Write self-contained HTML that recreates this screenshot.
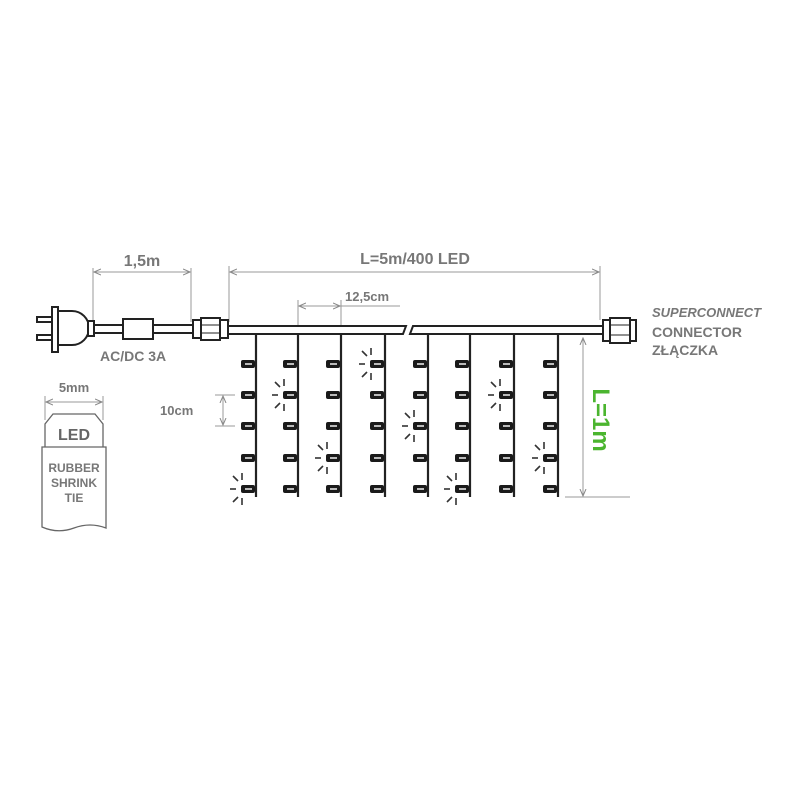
<!DOCTYPE html>
<html><head><style>body{margin:0;background:#fff}svg{display:block}</style></head><body>
<svg width="800" height="800" viewBox="0 0 800 800" xmlns="http://www.w3.org/2000/svg" font-family="Liberation Sans, Arial, sans-serif">
<defs>
<g id="led"><rect x="-15" y="-4" width="14" height="8" rx="2" fill="#1a1a1a"/><rect x="-11" y="-1" width="7" height="2" fill="#bbb"/></g>
<g id="spark" stroke="#333" stroke-width="1.6">
<line x1="-26" y1="0" x2="-20" y2="0"/><line x1="-14" y1="-16" x2="-14" y2="-9"/><line x1="-14" y1="9" x2="-14" y2="16"/>
<line x1="-23" y1="-13" x2="-18" y2="-8"/><line x1="-23" y1="13" x2="-18" y2="8"/>
</g>
<marker id="ar" markerWidth="8" markerHeight="8" refX="7" refY="4" orient="auto-start-reverse"><path d="M0,1 L7,4 L0,7" fill="none" stroke="#888" stroke-width="1"/></marker>
</defs>
<rect width="800" height="800" fill="#fff"/>
<g stroke="#999" stroke-width="1" fill="none">
<line x1="93" y1="268" x2="93" y2="322"/><line x1="191" y1="268" x2="191" y2="322"/>
<line x1="94" y1="272" x2="190" y2="272" marker-start="url(#ar)" marker-end="url(#ar)"/>
<line x1="229" y1="266" x2="229" y2="322"/><line x1="600" y1="266" x2="600" y2="320"/>
<line x1="230" y1="272" x2="599" y2="272" marker-start="url(#ar)" marker-end="url(#ar)"/>
<line x1="298" y1="300" x2="298" y2="326"/><line x1="341" y1="300" x2="341" y2="326"/>
<line x1="299" y1="306" x2="340" y2="306" marker-start="url(#ar)" marker-end="url(#ar)"/>
<line x1="341" y1="306" x2="400" y2="306"/>
<line x1="215" y1="395" x2="235" y2="395"/><line x1="215" y1="426" x2="235" y2="426"/>
<line x1="223" y1="396" x2="223" y2="425" marker-start="url(#ar)" marker-end="url(#ar)"/>
<line x1="583" y1="338" x2="583" y2="496" marker-start="url(#ar)" marker-end="url(#ar)"/>
<line x1="565" y1="497" x2="630" y2="497"/>
<line x1="46" y1="402" x2="102" y2="402" marker-start="url(#ar)" marker-end="url(#ar)"/>
<line x1="45" y1="396" x2="45" y2="420"/><line x1="103" y1="396" x2="103" y2="420"/>
</g>
<g fill="#777" font-weight="bold">
<text x="142" y="266" font-size="16" text-anchor="middle">1,5m</text>
<text x="415" y="264" font-size="16" text-anchor="middle">L=5m/400 LED</text>
<text x="345" y="301" font-size="13">12,5cm</text>
<text x="160" y="415" font-size="13">10cm</text>
<text x="100" y="361" font-size="14">AC/DC 3A</text>
<text x="74" y="392" font-size="13" text-anchor="middle">5mm</text>
<text x="652" y="317" font-size="13" font-style="italic">SUPERCONNECT</text>
<text x="652" y="337" font-size="14">CONNECTOR</text>
<text x="652" y="355" font-size="14">ZŁĄCZKA</text>
</g>
<text transform="translate(593,420) rotate(90)" fill="#4bb52f" font-size="24" font-weight="bold" text-anchor="middle">L=1m</text>
<path d="M45,447 L45,424 L53,414 L95,414 L103,424 L103,447" fill="#fff" stroke="#666" stroke-width="1.3"/>
<text x="74" y="440" font-size="16" font-weight="bold" fill="#666" text-anchor="middle">LED</text>
<path d="M42,447 L106,447 L106,528 Q90,522 74,528 Q58,534 42,527 Z" fill="#fff" stroke="#666" stroke-width="1.3"/>
<g font-size="12" font-weight="bold" fill="#777" text-anchor="middle"><text x="74" y="472">RUBBER</text><text x="74" y="487">SHRINK</text><text x="74" y="502">TIE</text></g>
<g stroke="#222" stroke-width="2" fill="#fff">
<rect x="37" y="317" width="17" height="5"/><rect x="37" y="335" width="17" height="5"/>
<rect x="52" y="307" width="6" height="45"/>
<path d="M58,311 L72,311 A17,17 0 0 1 72,345 L58,345 Z"/>
<rect x="88" y="321" width="6" height="15"/>
<rect x="94" y="325" width="30" height="8"/>
<rect x="123" y="319" width="30" height="20"/>
<rect x="153" y="325" width="41" height="8"/>
<rect x="193" y="320" width="8" height="18"/><rect x="201" y="318" width="19" height="22"/><rect x="220" y="320" width="8" height="18"/>
<line x1="201" y1="325" x2="220" y2="325" stroke-width="1"/><line x1="201" y1="333" x2="220" y2="333" stroke-width="1"/>
<path d="M228,326 L406,326 L403,334 L228,334 Z"/>
<path d="M413,326 L603,326 L603,334 L410,334 Z"/>
<rect x="603" y="320" width="7" height="21"/><rect x="610" y="318" width="20" height="25"/><rect x="630" y="320" width="6" height="21"/>
<line x1="610" y1="325" x2="630" y2="325" stroke-width="1"/><line x1="610" y1="335" x2="630" y2="335" stroke-width="1"/>
</g>
<g stroke="#222" stroke-width="2.2">
<line x1="256" y1="334" x2="256" y2="497"/><line x1="298" y1="334" x2="298" y2="497"/>
<line x1="341" y1="334" x2="341" y2="497"/><line x1="385" y1="334" x2="385" y2="497"/>
<line x1="428" y1="334" x2="428" y2="497"/><line x1="470" y1="334" x2="470" y2="497"/>
<line x1="514" y1="334" x2="514" y2="497"/><line x1="558" y1="334" x2="558" y2="497"/>
</g>
<g>
<use href="#led" x="256" y="364"/><use href="#led" x="256" y="395"/><use href="#led" x="256" y="426"/><use href="#led" x="256" y="458"/><use href="#led" x="256" y="489"/>
<use href="#led" x="298" y="364"/><use href="#led" x="298" y="395"/><use href="#led" x="298" y="426"/><use href="#led" x="298" y="458"/><use href="#led" x="298" y="489"/>
<use href="#led" x="341" y="364"/><use href="#led" x="341" y="395"/><use href="#led" x="341" y="426"/><use href="#led" x="341" y="458"/><use href="#led" x="341" y="489"/>
<use href="#led" x="385" y="364"/><use href="#led" x="385" y="395"/><use href="#led" x="385" y="426"/><use href="#led" x="385" y="458"/><use href="#led" x="385" y="489"/>
<use href="#led" x="428" y="364"/><use href="#led" x="428" y="395"/><use href="#led" x="428" y="426"/><use href="#led" x="428" y="458"/><use href="#led" x="428" y="489"/>
<use href="#led" x="470" y="364"/><use href="#led" x="470" y="395"/><use href="#led" x="470" y="426"/><use href="#led" x="470" y="458"/><use href="#led" x="470" y="489"/>
<use href="#led" x="514" y="364"/><use href="#led" x="514" y="395"/><use href="#led" x="514" y="426"/><use href="#led" x="514" y="458"/><use href="#led" x="514" y="489"/>
<use href="#led" x="558" y="364"/><use href="#led" x="558" y="395"/><use href="#led" x="558" y="426"/><use href="#led" x="558" y="458"/><use href="#led" x="558" y="489"/>
<use href="#spark" x="256" y="489"/><use href="#spark" x="298" y="395"/><use href="#spark" x="385" y="364"/><use href="#spark" x="341" y="458"/>
<use href="#spark" x="428" y="426"/><use href="#spark" x="470" y="489"/><use href="#spark" x="514" y="395"/><use href="#spark" x="558" y="458"/>
</g>
</svg>
</body></html>
